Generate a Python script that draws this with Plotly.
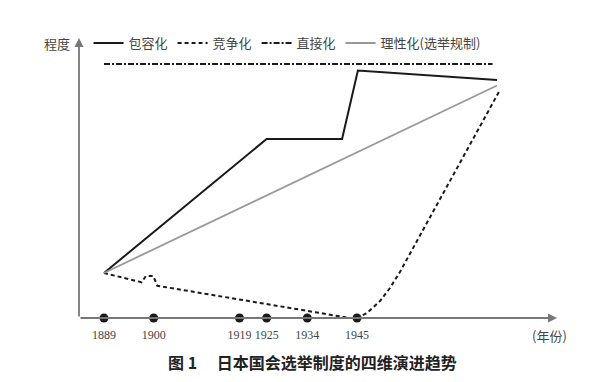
import plotly.graph_objects as go

# ---- data ----
years_ticks = [1889, 1900, 1919, 1925, 1934, 1945]
tick_labels = ["1889", "1900", "1919", "1925", "1934", "1945"]

inclusive_x = [1889, 1925, 1941.7, 1945.2, 1976]
inclusive_y = [18, 71.6, 71.6, 99, 95.2]

compete_x = [1889, 1897.3, 1898.3, 1899.9, 1900.8, 1935.0, 1943.4, 1945,
             1947.2, 1950.1, 1952.3, 1954.5, 1976.4]
compete_y = [18, 14.3, 16.8, 16.8, 12.9, 2.3, 0, 0,
             2.0, 6.8, 12.0, 18.4, 90.4]

direct_x = [1889, 1975]
direct_y = [101.6, 101.6]

rational_x = [1889, 1976]
rational_y = [18, 93]

names = ["包容化", "竞争化", "直接化", "理性化(选举规制)"]

CJK = "Noto Sans CJK SC"
SERIF = "Liberation Serif"

fig = go.Figure()
fig.add_trace(go.Scatter(x=inclusive_x, y=inclusive_y, mode="lines", name=names[0],
                         line=dict(color="#1a1a1a", width=2)))
fig.add_trace(go.Scatter(x=compete_x, y=compete_y, mode="lines", name=names[1],
                         line=dict(color="#1a1a1a", width=2, dash="4px,3px")))
fig.add_trace(go.Scatter(x=direct_x, y=direct_y, mode="lines", name=names[2],
                         line=dict(color="#1a1a1a", width=2, dash="6px,2px,2px,2px")))
fig.add_trace(go.Scatter(x=rational_x, y=rational_y, mode="lines", name=names[3],
                         line=dict(color="#999999", width=1.8)))
fig.add_trace(go.Scatter(x=years_ticks, y=[0] * len(years_ticks), mode="markers",
                         showlegend=False, cliponaxis=False,
                         marker=dict(color="#1a1a1a", size=9)))

fig.update_layout(
    width=610, height=382,
    margin=dict(l=79, r=53, t=38, b=64),
    paper_bgcolor="white", plot_bgcolor="white",
    showlegend=True,
    legend=dict(orientation="h", x=0.02, y=0.982, xanchor="left", yanchor="middle",
                font=dict(family=CJK, size=13, color="#444"),
                bgcolor="rgba(0,0,0,0)", itemwidth=30, tracegroupgap=0),
    xaxis=dict(range=[1883.47, 1989.27], showgrid=False, zeroline=False, showline=False,
               tickvals=years_ticks, ticktext=tick_labels, ticks="outside", ticklen=6,
               tickcolor="rgba(0,0,0,0)", tickangle=0, automargin=False,
               tickfont=dict(family=SERIF, size=12, color="#444")),
    yaxis=dict(range=[0, 112], showgrid=False, zeroline=False, showline=False,
               showticklabels=False, ticks="", automargin=False),
    annotations=[
        # x-axis arrow
        dict(xref="paper", yref="paper", x=1.0, y=0, ax=-478, ay=0,
             showarrow=True, arrowhead=2, arrowsize=1, arrowwidth=1.8, arrowcolor="#777", text=""),
        # y-axis arrow
        dict(xref="paper", yref="paper", x=0, y=1.0, ax=0, ay=280,
             showarrow=True, arrowhead=2, arrowsize=1, arrowwidth=1.8, arrowcolor="#777", text=""),
        dict(xref="paper", yref="paper", x=-0.046, y=0.982, text="程度", showarrow=False,
             font=dict(family=CJK, size=13, color="#444"), xanchor="center", yanchor="middle"),
        dict(xref="paper", yref="paper", x=0.985, y=-0.064, text="(年份)", showarrow=False,
             font=dict(family=CJK, size=13, color="#444"), xanchor="center", yanchor="middle"),
        dict(xref="paper", yref="paper", x=0.488, y=-0.157,
             text="<b>图 1　 日本国会选举制度的四维演进趋势</b>", showarrow=False,
             font=dict(family=CJK, size=16, color="#222"), xanchor="center", yanchor="middle"),
    ],
)

fig.write_html("out.html", config={"displayModeBar": False},
               post_script="document.body.style.margin='0';")
